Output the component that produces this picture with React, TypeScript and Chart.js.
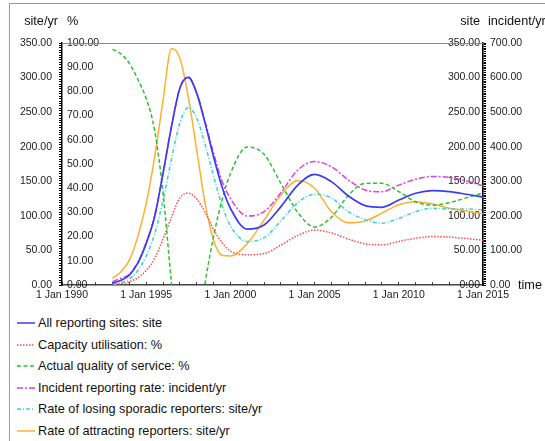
import React, { useEffect, useRef } from 'react';
import { Chart, registerables } from 'chart.js';

Chart.register(...registerables);

// time in years (decimal)
const years = [
  1993, 1993.5, 1994, 1994.5, 1995, 1995.5, 1996, 1996.5, 1997, 1997.5, 1998, 1998.5, 1999, 1999.5, 2000,
  2001, 2002, 2003, 2004, 2005, 2006, 2007, 2008, 2009, 2010, 2011, 2012, 2013, 2014, 2015,
];

// site
const allReportingSites = [
  2.5, 7, 14.4, 31.5, 60.2, 98.7, 161.4, 228.9, 284.6, 300.3, 277.2, 233.8, 185.5, 142.1, 111,
  80.9, 86.8, 113.4, 144.6, 160, 149.5, 128.8, 114.8, 112.4, 122.9, 132.7, 136.5, 135.1, 131.3, 127,
];
// %
const capacityUtilisation = [
  0.2, 0.5, 1.3, 3, 6, 11, 19, 28, 36, 38, 35.5, 30, 23, 17.5, 14,
  12.5, 13, 16.5, 20.5, 22.7, 21.5, 19, 17, 16.6, 18, 19.3, 20, 19.8, 19.2, 18.5,
];
// %
const qualityOfService = [
  97.4, 95.5, 91.6, 85, 77, 64, 38, 1, -30, -40, -22, 1, 20, 35, 46,
  57, 54, 42, 30, 24, 28, 37, 42, 42, 38.6, 34.4, 33, 34, 36, 38,
];
// incident/yr
const incidentRate = [
  9.8, 19.6, 31.5, 65, 122.5, 199.5, 324, 458.5, 570.5, 602, 556.5, 472.5, 381.5, 301, 250.6,
  199.5, 212, 267, 332.5, 357, 342, 304, 275, 270, 289, 306, 313.6, 311.5, 301, 287,
];
// site/yr
const losingSporadic = [
  0.7, 3.5, 8.8, 21, 42, 73.5, 122.5, 182, 234.5, 256.6, 241.5, 203, 157.5, 115.5, 85.8,
  63, 68.3, 92.8, 119, 131.3, 126, 106, 94.5, 89.3, 96.3, 106, 111, 110, 110, 108.5,
];
// site/yr
const attracting = [
  9.6, 19, 36, 70, 118, 185, 267, 342, 328, 272, 195, 118, 65, 43, 42,
  60, 94, 130, 151, 140, 106, 90, 92.6, 104, 116, 120.5, 117, 111, 107, 103,
];

const FONT = '"Liberation Sans", Arial, sans-serif';
const TICK_FONT = { family: FONT, size: 10.5 };
const TICK_COLOR = '#222';

type Series = { label: string; values: number[]; color: string; dash: number[]; axis: string; width: number };

const series: Series[] = [
  { label: 'All reporting sites: site', values: allReportingSites, color: '#3c3cf5', dash: [], axis: 'ySite', width: 1.7 },
  { label: 'Capacity utilisation: %', values: capacityUtilisation, color: '#ff4c4c', dash: [1.5, 1.5], axis: 'yPct', width: 1.5 },
  { label: 'Actual quality of service: %', values: qualityOfService, color: '#2ec02e', dash: [4, 2.5], axis: 'yPct', width: 1.5 },
  { label: 'Incident reporting rate: incident/yr', values: incidentRate, color: '#e040e0', dash: [6, 2, 2, 2], axis: 'yInc', width: 1.5 },
  { label: 'Rate of losing sporadic reporters: site/yr', values: losingSporadic, color: '#3cd2d2', dash: [4, 2, 1, 2], axis: 'yRate', width: 1.5 },
  { label: 'Rate of attracting reporters: site/yr', values: attracting, color: '#ffb030', dash: [], axis: 'yRate', width: 1.5 },
];

const fmt = (v: number) => Number(v).toFixed(2);

const topLine = {
  id: 'topLine',
  beforeDatasetsDraw(chart: any) {
    const { ctx, chartArea: a } = chart;
    ctx.save();
    ctx.strokeStyle = '#8a8a8a';
    ctx.lineWidth = 1;
    ctx.beginPath();
    ctx.moveTo(a.left, Math.round(a.top) + 0.5);
    ctx.lineTo(a.right, Math.round(a.top) + 0.5);
    ctx.stroke();
    ctx.restore();
  },
};

export default function App() {
  const ref = useRef<HTMLCanvasElement>(null);

  useEffect(() => {
    const chart = new Chart(ref.current as HTMLCanvasElement, {
      type: 'line',
      data: {
        datasets: series.map((s) => ({
          label: s.label,
          data: years.map((x, i) => ({ x, y: s.values[i] })),
          borderColor: s.color,
          backgroundColor: s.color,
          borderWidth: s.width,
          borderDash: s.dash,
          pointRadius: 0,
          fill: false,
          cubicInterpolationMode: 'monotone' as const,
          yAxisID: s.axis,
        })),
      },
      options: {
        animation: false,
        responsive: false,
        maintainAspectRatio: false,
        layout: { padding: { top: 43, left: 0, right: 0, bottom: 0 } },
        plugins: { legend: { display: false }, tooltip: { enabled: false } },
        scales: {
          x: {
            type: 'linear',
            min: 1990,
            max: 2015,
            afterFit: (s: any) => { s.height = 25; },
            ticks: {
              stepSize: 1,
              autoSkip: false,
              maxRotation: 0,
              padding: 7,
              color: TICK_COLOR,
              font: TICK_FONT,
              callback: (v: any) => (Number(v) % 5 === 0 ? '1 Jan ' + v : ''),
            },
            grid: { drawOnChartArea: false, drawTicks: true, tickLength: -3, color: '#444' },
            border: { color: '#444', width: 1.5 },
          },
          yRate: {
            position: 'left',
            weight: 1,
            min: 0,
            max: 350,
            afterFit: (s: any) => { s.width = 54; },
            ticks: { stepSize: 50, padding: 2, autoSkip: false, color: TICK_COLOR, font: TICK_FONT, callback: (v: any) => fmt(v) },
            grid: { display: false, drawTicks: false },
            border: { display: false },
          },
          yPct: {
            position: 'left',
            weight: 0,
            min: 0,
            max: 100,
            afterFit: (s: any) => { s.width = 8; },
            ticks: {
              mirror: true,
              padding: 5,
              stepSize: 1,
              autoSkip: false,
              color: TICK_COLOR,
              font: TICK_FONT,
              callback: (v: any) => (Number(v) % 10 === 0 ? fmt(v) : ''),
            },
            grid: { drawOnChartArea: false, drawTicks: true, tickLength: 3, color: '#000' },
            border: { color: '#000', width: 1.5 },
          },
          ySite: {
            position: 'right',
            weight: 0,
            min: 0,
            max: 350,
            afterFit: (s: any) => { s.width = 7; },
            ticks: {
              mirror: true,
              padding: -3,
              stepSize: 2.5,
              autoSkip: false,
              color: TICK_COLOR,
              font: TICK_FONT,
              callback: (v: any) => (Number(v) % 50 === 0 ? fmt(v) : ''),
            },
            grid: { drawOnChartArea: false, drawTicks: true, tickLength: 3, color: '#000' },
            border: { color: '#000', width: 1.5 },
          },
          yInc: {
            position: 'right',
            weight: 1,
            min: 0,
            max: 700,
            afterFit: (s: any) => { s.width = 55; },
            ticks: { stepSize: 100, padding: 0, autoSkip: false, color: TICK_COLOR, font: TICK_FONT, callback: (v: any) => fmt(v) },
            grid: { display: false, drawTicks: false },
            border: { display: false },
          },
        },
      } as any,
      plugins: [topLine],
    });
    return () => chart.destroy();
  }, []);

  const titleStyle: React.CSSProperties = {
    position: 'absolute',
    fontSize: 12.7,
    lineHeight: '15px',
    color: '#111',
    whiteSpace: 'nowrap',
  };

  return (
    <div
      style={{
        position: 'absolute',
        left: 0,
        top: 0,
        width: 545,
        height: 441,
        overflow: 'hidden',
        background: '#fff',
        fontFamily: FONT,
      }}
    >
      <div style={{ position: 'absolute', left: 9, top: 3, width: 800, height: 800, border: '1px solid #999' }} />
      <canvas ref={ref} width={545} height={310} style={{ position: 'absolute', left: 0, top: 0 }} />
      <span style={{ ...titleStyle, right: 545 - 58, top: 14 }}>site/yr</span>
      <span style={{ ...titleStyle, left: 67, top: 14 }}>%</span>
      <span style={{ ...titleStyle, right: 545 - 480, top: 14 }}>site</span>
      <span style={{ ...titleStyle, left: 488, top: 14 }}>incident/yr</span>
      <span style={{ ...titleStyle, left: 518, top: 278 }}>time</span>
      <div style={{ position: 'absolute', left: 17, top: 312.3 }}>
        {series.map((s) => (
          <div key={s.label} style={{ height: 21.5, display: 'flex', alignItems: 'center' }}>
            <svg width={18} height={6} style={{ display: 'block' }}>
              <line
                x1={0}
                y1={3}
                x2={18}
                y2={3}
                stroke={s.color}
                strokeWidth={1.5}
                strokeDasharray={s.dash.length ? s.dash.join(' ') : undefined}
              />
            </svg>
            <span style={{ marginLeft: 3, fontSize: 12.7, color: '#111', whiteSpace: 'nowrap' }}>{s.label}</span>
          </div>
        ))}
      </div>
    </div>
  );
}
